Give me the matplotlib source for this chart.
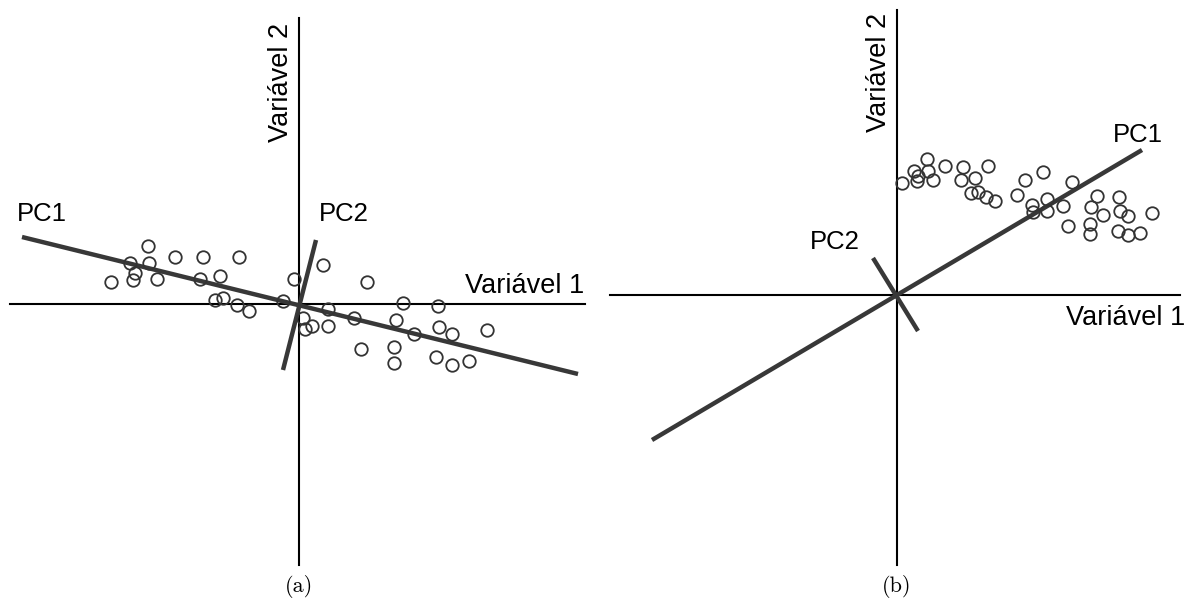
import matplotlib.pyplot as plt

# painel (a): pontos em torno da origem
xa = [-15.1, -12.4, -9.6, -6.0, -16.9, -15.0, -16.4, -16.6, -18.8, -14.2, -9.9, -7.9,
      -8.4, -7.6, -6.2, -5.0, -1.6, -0.5, 0.4, 2.4, 6.8, 2.9, 10.4, 13.9, 0.6, 1.3,
      2.9, 5.5, 9.7, 14.0, 11.5, 15.3, 18.8, 6.2, 9.5, 9.5, 13.7, 15.3, 17.0]
ya = [5.8, 4.7, 4.7, 4.7, 4.1, 4.1, 3.1, 2.4, 2.2, 2.5, 2.5, 2.8,
      0.4, 0.6, -0.1, -0.7, 0.3, 2.5, -1.4, 3.9, 2.2, -0.5, 0.1, -0.2, -2.5, -2.2,
      -2.2, -1.4, -1.6, -2.3, -3.0, -3.0, -2.6, -4.5, -4.3, -5.9, -5.3, -6.1, -5.7]
pc1_a = ([-27.7, 27.9], [6.7, -7.0])
pc2_a = ([1.7, -1.6], [6.4, -6.6])

# painel (b): pontos deslocados no primeiro quadrante
xb = [0.5, 1.7, 2.1, 2.0, 3.0, 3.1, 3.6, 4.8, 6.6, 6.4, 7.8, 9.1, 7.4, 8.1, 8.9, 9.8,
      12.0, 12.8, 14.6, 13.5, 13.6, 15.0, 15.0, 16.6, 17.5, 17.1, 19.4, 20.0, 19.3,
      19.3, 20.6, 22.2, 22.3, 23.1, 22.1, 23.1, 24.3, 25.5]
yb = [11.2, 12.4, 11.9, 11.4, 13.6, 12.4, 11.5, 12.9, 12.8, 11.5, 11.7, 12.9, 10.2,
      10.3, 9.8, 9.4, 10.0, 11.5, 12.3, 9.0, 8.3, 9.6, 8.4, 8.9, 11.3, 6.9, 8.8, 9.9,
      7.1, 6.1, 8.0, 9.8, 8.4, 7.9, 6.4, 6.0, 6.2, 8.2]
pc1_b = ([-24.5, 24.5], [-14.5, 14.5])
pc2_b = ([-2.4, 2.1], [3.7, -3.6])

fig = plt.figure(figsize=(11.91, 6.04), dpi=100)
ax1 = fig.add_axes([0, 0, 595.5 / 1191, 1])
ax2 = fig.add_axes([595.5 / 1191, 0, 595.5 / 1191, 1])

sans = 'Liberation Sans'
cor_pc = '#383838'
cor_pt = '#333333'
fs_var = 19.5
fs_pc = 18.5
fs_lab = 16

# --- (a)
ax1.plot([-28.9, 28.6], [0, 0], color='black', lw=1.5)
ax1.plot([0, 0], [-26.1, 28.6], color='black', lw=1.5)
ax1.plot(*pc1_a, color=cor_pc, lw=3.2, solid_capstyle='butt', zorder=3)
ax1.plot(*pc2_a, color=cor_pc, lw=3.2, solid_capstyle='butt', zorder=3)
ax1.plot(xa, ya, 'o', mfc='none', mec=cor_pt, mew=1.3, ms=9, zorder=4)
ax1.text(-28.2, 9.0, 'PC1', fontsize=fs_pc, family=sans, ha='left', va='center')
ax1.text(2.0, 9.0, 'PC2', fontsize=fs_pc, family=sans, ha='left', va='center')
ax1.text(28.5, 1.8, 'Variável 1', fontsize=fs_var, family=sans, ha='right', va='center')
ax1.text(-1.8, 22.2, 'Variável 2', fontsize=fs_var, family=sans, rotation=90,
         ha='center', va='center')
ax1.text(0, -28.3, '(a)', fontsize=fs_lab, family='cmr10', ha='center', va='center')
ax1.set_xlim(-29.9, 29.65)
ax1.set_ylim(-30, 30.4)
ax1.axis('off')

# --- (b)
ax2.plot([-28.7, 28.3], [0, 0], color='black', lw=1.5)
ax2.plot([0, 0], [-27, 28.5], color='black', lw=1.5)
ax2.plot(*pc1_b, color=cor_pc, lw=3.2, solid_capstyle='butt', zorder=3)
ax2.plot(*pc2_b, color=cor_pc, lw=3.2, solid_capstyle='butt', zorder=3)
ax2.plot(xb, yb, 'o', mfc='none', mec=cor_pt, mew=1.3, ms=9, zorder=4)
ax2.text(21.6, 16.0, 'PC1', fontsize=fs_pc, family=sans, ha='left', va='center')
ax2.text(-8.7, 5.3, 'PC2', fontsize=fs_pc, family=sans, ha='left', va='center')
ax2.text(28.8, -2.3, 'Variável 1', fontsize=fs_var, family=sans, ha='right', va='center')
ax2.text(-1.8, 22.3, 'Variável 2', fontsize=fs_var, family=sans, rotation=90,
         ha='center', va='center')
ax2.text(0, -29.2, '(b)', fontsize=fs_lab, family='cmr10', ha='center', va='center')
ax2.set_xlim(-30.15, 29.4)
ax2.set_ylim(-30.9, 29.5)
ax2.axis('off')

fig.savefig('out.png', dpi=100)
